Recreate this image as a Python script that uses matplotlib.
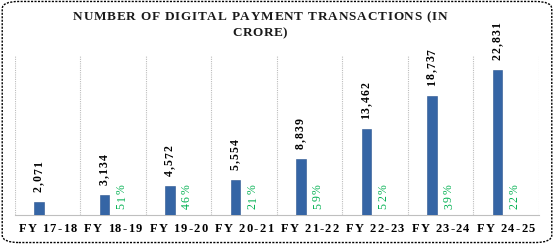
import numpy as np
import matplotlib
matplotlib.use("Agg")
import matplotlib.pyplot as plt
from matplotlib.patches import FancyBboxPatch
from matplotlib.font_manager import FontProperties

# data
years = ["FY 17-18", "FY 18-19", "FY 19-20", "FY 20-21",
         "FY 21-22", "FY 22-23", "FY 23-24", "FY 24-25"]
transactions = [2071, 3134, 4572, 5554, 8839, 13462, 18737, 22831]
growth = [None, 51, 46, 21, 59, 52, 39, 22]
title_lines = ["NUMBER OF DIGITAL PAYMENT TRANSACTIONS (IN", "CRORE)"]

plt.rcParams['font.family'] = ['Liberation Serif', 'DejaVu Serif']

W, H = 554, 244
fig = plt.figure(figsize=(W / 100, H / 100), dpi=100)
renderer = fig.canvas.get_renderer()


def char_width(ch, prop):
    # advance width of one character, in pixels
    w2, _, _ = renderer.get_text_width_height_descent("||", prop, ismath=False)
    w3, _, _ = renderer.get_text_width_height_descent("|" + ch + "|", prop,
                                                      ismath=False)
    return w3 - w2


def spaced_text(s, xc, y, width, prop, **kw):
    # draw s centred at pixel xc, y (from top) spread to the given width
    widths = [char_width(c, prop) for c in s]
    track = (width - sum(widths)) / (len(s) - 1)
    x0 = xc - width / 2
    for c, w in zip(s, widths):
        if c != " ":
            fig.text((x0 + w / 2) / W, 1 - y / H, c, ha='center',
                     va='center', fontproperties=prop, **kw)
        x0 += w + track


def spaced_vtext(s, xc, ybot, track, prop, **kw):
    # rotated text reading upwards, starting at pixel ybot (from top)
    y0 = ybot
    for c in s:
        w = char_width(c, prop)
        fig.text(xc / W, 1 - (y0 - w / 2) / H, c, ha='center',
                 va='center', rotation=90, fontproperties=prop, **kw)
        y0 -= w + track


ax = fig.add_axes([0.0265, 0.119, 0.946, 0.651])

x = np.arange(len(years))
ax.bar(x - 0.13, transactions, width=0.14, color='#3565A5',
       edgecolor='#2B5590', linewidth=0.4, zorder=3)

ax.set_xlim(-0.5, len(years) - 0.5)
ax.set_ylim(0, 25000)
ax.set_xticks(x)
ax.set_xticklabels([])
ax.tick_params(axis='x', length=0)
ax.set_yticks([])

# vertical gridlines at category boundaries
for b in np.arange(-0.5, len(years) + 0.5, 1):
    ax.axvline(b, color='#BDBDBD', linestyle=(0, (1, 1)), linewidth=0.8,
               zorder=1)

for s in ['top', 'left', 'right']:
    ax.spines[s].set_visible(False)
ax.spines['bottom'].set_color('#BFBFBF')
ax.spines['bottom'].set_linewidth(0.8)

fig.canvas.draw()


def to_px(xd, yd):
    px, py = ax.transData.transform((xd, yd))
    return px, H - py


# value labels above the bars
val_prop = FontProperties(family='Liberation Serif', weight='bold', size=8.5)
for xi, v in zip(x, transactions):
    px, py = to_px(xi - 0.13, v)
    spaced_vtext(f"{v:,}", px, py - 10, 1.0, val_prop, color='black')

# growth labels near the baseline
pct_prop = FontProperties(family='Liberation Serif', size=8.5)
for xi, g in zip(x, growth):
    if g is None:
        continue
    px, py = to_px(xi + 0.13, 0)
    spaced_vtext(f"{g}%", px, py - 6, 1.5, pct_prop, color='#00B050')

# category labels with wide letter spacing
tick_prop = FontProperties(family='Liberation Serif', weight='bold', size=9)
for xi, lab in zip(x, years):
    px, _ = to_px(xi, 0)
    spaced_text(lab, px, 229, 58, tick_prop, color='black')

# title
title_prop = FontProperties(family='Liberation Serif', weight='bold', size=9.5)
spaced_text(title_lines[0], 260, 17, 374, title_prop, color='#1a1a1a')
spaced_text(title_lines[1], 260, 33, 55, title_prop, color='#1a1a1a')

# dashed rounded chart border
border = FancyBboxPatch((0.004, 0.006), 0.992, 0.988,
                        boxstyle="round,pad=0,rounding_size=0.03",
                        transform=fig.transFigure, fill=False,
                        edgecolor='black', linestyle=(0, (1.5, 1)),
                        linewidth=1)
fig.patches.append(border)

fig.savefig("out.png", dpi=100)
